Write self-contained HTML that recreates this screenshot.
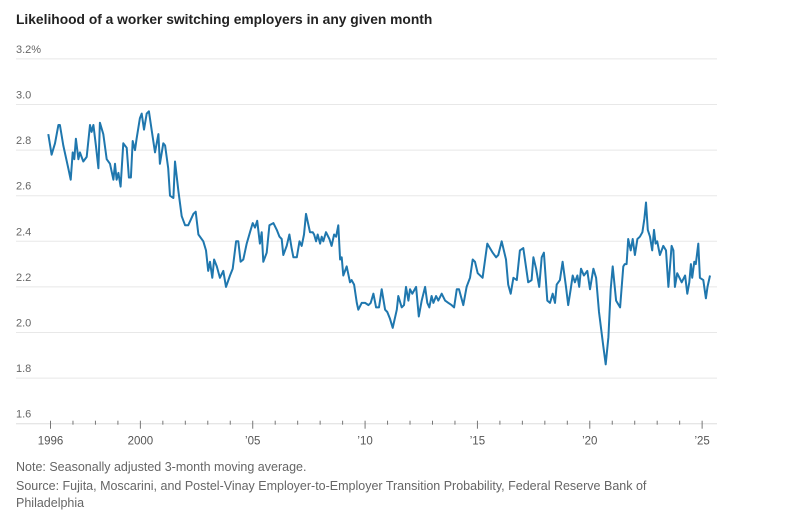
<!DOCTYPE html>
<html><head><meta charset="utf-8"><style>
body{margin:0;background:#fff;width:789px;height:522px;overflow:hidden;font-family:"Liberation Sans",sans-serif}
svg{position:absolute;left:0;top:0}
</style></head><body>
<svg id="chart" width="789" height="522" xmlns="http://www.w3.org/2000/svg">
<text x="16" y="24" font-size="13.8" font-weight="bold" fill="#222" font-family="Liberation Sans, sans-serif">Likelihood of a worker switching employers in any given month</text>
<g id="grid"></g><g id="xaxis"></g>
<path id="line" fill="none" stroke="#1f77ae" stroke-width="2" stroke-linejoin="round"/>
<text x="16" y="471" font-size="12.5" fill="#666">Note: Seasonally adjusted 3-month moving average.</text>
<text x="16" y="490" font-size="12.5" fill="#666">Source: Fujita, Moscarini, and Postel-Vinay Employer-to-Employer Transition Probability, Federal Reserve Bank of</text>
<text x="16" y="507" font-size="12.5" fill="#666">Philadelphia</text>
</svg>
<script>
const dates=[1995.90,1996.05,1996.20,1996.35,1996.42,1996.57,1996.79,1996.90,1996.99,1997.06,1997.13,1997.24,1997.31,1997.46,1997.61,1997.76,1997.83,1997.91,1998.02,1998.13,1998.20,1998.35,1998.50,1998.65,1998.80,1998.87,1998.94,1999.02,1999.12,1999.24,1999.39,1999.49,1999.58,1999.66,1999.76,1999.83,1999.98,2000.06,2000.16,2000.28,2000.38,2000.50,2000.65,2000.80,2000.87,2001.02,2001.10,2001.24,2001.32,2001.47,2001.54,2001.69,2001.84,2001.99,2002.13,2002.36,2002.46,2002.58,2002.80,2002.92,2003.02,2003.10,2003.20,2003.28,2003.40,2003.54,2003.69,2003.81,2003.99,2004.11,2004.26,2004.36,2004.46,2004.58,2004.73,2004.88,2005.00,2005.10,2005.20,2005.32,2005.40,2005.47,2005.62,2005.74,
2005.92,2006.07,2006.19,2006.29,2006.36,2006.51,2006.63,2006.73,2006.81,2006.96,2007.08,2007.18,2007.28,2007.37,2007.55,2007.67,2007.73,2007.82,2007.89,2008.00,2008.07,2008.14,2008.26,2008.41,2008.51,2008.62,2008.71,2008.81,2008.89,2008.96,2009.03,2009.18,2009.33,2009.40,2009.51,2009.63,2009.70,2009.85,2010.00,2010.15,2010.25,2010.37,2010.49,2010.62,2010.74,2010.89,2010.99,2011.11,2011.23,2011.41,2011.48,2011.63,2011.73,2011.82,2011.93,2012.00,2012.10,2012.27,2012.39,2012.52,2012.67,2012.77,2012.86,2012.96,2013.04,2013.16,2013.26,2013.41,2013.56,2013.71,2013.85,2013.96,2014.08,2014.18,2014.37,2014.52,2014.67,2014.79,2014.89,2015.01,2015.23,2015.44,
2015.68,2015.83,2015.93,2016.08,2016.27,2016.37,2016.48,2016.60,2016.75,2016.89,2017.04,2017.26,2017.41,2017.49,2017.61,2017.75,2017.86,2017.96,2018.11,2018.23,2018.35,2018.45,2018.53,2018.67,2018.79,2018.94,2019.04,2019.15,2019.24,2019.34,2019.45,2019.53,2019.61,2019.74,2019.89,2020.01,2020.16,2020.28,2020.41,2020.60,2020.71,2020.83,2020.93,2021.02,2021.17,2021.35,2021.49,2021.56,2021.64,2021.71,2021.82,2021.91,2022.01,2022.12,2022.23,2022.34,2022.43,2022.50,2022.58,2022.68,2022.78,2022.86,2022.93,2023.00,2023.12,2023.27,2023.39,2023.50,2023.64,2023.72,2023.79,2023.89,2024.09,2024.24,2024.34,2024.43,2024.50,2024.56,2024.65,2024.72,2024.83,2024.90,2025.05,2025.17,2025.24,2025.35];
const rates=[2.87,2.78,2.83,2.91,2.91,2.82,2.72,2.67,2.79,2.76,2.85,2.76,2.79,2.75,2.77,2.91,2.88,2.91,2.82,2.72,2.92,2.87,2.76,2.74,2.67,2.74,2.67,2.70,2.64,2.83,2.81,2.68,2.68,2.84,2.80,2.85,2.94,2.96,2.89,2.96,2.97,2.89,2.79,2.87,2.74,2.83,2.82,2.72,2.60,2.59,2.75,2.62,2.51,2.47,2.47,2.52,2.53,2.43,2.40,2.36,2.27,2.31,2.24,2.32,2.29,2.24,2.27,2.20,2.25,2.28,2.40,2.40,2.31,2.32,2.39,2.44,2.48,2.46,2.49,2.39,2.44,2.31,2.35,2.47,
2.48,2.45,2.42,2.41,2.34,2.38,2.43,2.37,2.33,2.33,2.40,2.38,2.43,2.52,2.44,2.44,2.43,2.40,2.43,2.39,2.42,2.40,2.44,2.41,2.38,2.43,2.42,2.47,2.32,2.33,2.25,2.29,2.22,2.23,2.21,2.13,2.10,2.13,2.13,2.12,2.13,2.17,2.11,2.11,2.19,2.10,2.09,2.06,2.02,2.10,2.16,2.11,2.12,2.20,2.14,2.19,2.17,2.20,2.07,2.14,2.20,2.13,2.11,2.16,2.13,2.16,2.14,2.17,2.14,2.13,2.12,2.11,2.19,2.19,2.12,2.20,2.24,2.32,2.31,2.26,2.24,2.39,2.35,2.33,
2.34,2.40,2.32,2.21,2.17,2.24,2.23,2.36,2.37,2.22,2.23,2.33,2.28,2.20,2.33,2.35,2.14,2.13,2.17,2.13,2.21,2.23,2.31,2.20,2.12,2.19,2.25,2.22,2.25,2.20,2.28,2.25,2.27,2.19,2.28,2.24,2.09,1.94,1.86,1.98,2.19,2.29,2.14,2.11,2.29,2.30,2.30,2.41,2.36,2.41,2.34,2.41,2.42,2.44,2.50,2.57,2.45,2.42,2.36,2.45,2.39,2.40,2.34,2.38,2.36,2.20,2.38,2.36,2.20,2.26,2.22,2.25,2.17,2.22,2.30,2.24,2.31,2.30,2.39,2.24,2.23,2.15,2.20,2.25,2.34,2.28];
const yTicks=[3.2,3.0,2.8,2.6,2.4,2.2,2.0,1.8,1.6];
const yTickLabels=["3.2%","3.0","2.8","2.6","2.4","2.2","2.0","1.8","1.6"];
const xMajor=[1996,2000,2005,2010,2015,2020,2025];
const xMajorLabels=["1996","2000","’05","’10","’15","’20","’25"];
const X=y=>50.5+(y-1996)*22.47;
const Y=v=>104.5+(3.0-v)/0.2*45.6;
const NS="http://www.w3.org/2000/svg";
const grid=document.getElementById('grid'),xa=document.getElementById('xaxis');
function mk(tag,attrs,parent){const e=document.createElementNS(NS,tag);for(const k in attrs)e.setAttribute(k,attrs[k]);parent.appendChild(e);return e;}
yTicks.forEach((v,i)=>{
 const l=mk('line',{x1:16,x2:717,y1:Y(v),y2:Y(v),stroke:i===yTicks.length-1?'#ddd':'#e8e8e8','stroke-width':1},grid);
 
 
 const t=mk('text',{x:16,y:Y(v)-6,'font-size':11,fill:'#666'},grid);
 t.textContent=yTickLabels[i];
 
 
});
for(let yr=1996;yr<=2025;yr++){
 const major=xMajor.includes(yr);
 const tk=mk('line',{x1:X(yr),x2:X(yr),y1:Y(1.6)-3,y2:Y(1.6)+(major?5:1),stroke:'#777','stroke-width':1},xa);
 
 
}
xMajor.forEach((yr,i)=>{
 const t=mk('text',{x:X(yr),y:Y(1.6)+21,'font-size':11.5,fill:'#555','text-anchor':'middle'},xa);
 t.textContent=xMajorLabels[i];
 
 
});
document.getElementById('line').setAttribute('d',dates.map((d,i)=>(i?'L':'M')+X(d).toFixed(1)+','+Y(rates[i]).toFixed(1)).join(''));
</script>
</body></html>
